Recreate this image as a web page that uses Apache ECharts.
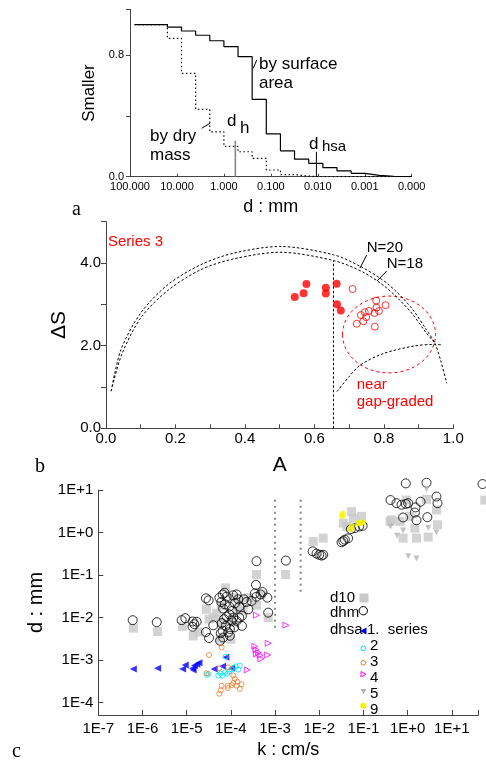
<!DOCTYPE html>
<html>
<head>
<meta charset="utf-8">
<script src="https://cdn.jsdelivr.net/npm/echarts@6/dist/echarts.min.js"></script>
<style>
  html, body { margin: 0; padding: 0; background: #fff; }
  #chart { width: 486px; height: 760px; }
</style>
</head>
<body>
<div id="chart"></div>
<script>
// ---------- panel a : grading curves ----------
var sieveSizes  = [80, 16, 8, 4, 2, 1, 0.5, 0.25, 0.125, 0.0625, 0.0313, 0.0156, 0.0078, 0.0039, 0.00195, 0.00098, 0.00049, 0.00024, 0.0001];
var surfaceFrac = [1.0, 0.984, 0.958, 0.93, 0.894, 0.855, 0.79, 0.509, 0.282, 0.17, 0.115, 0.088, 0.06, 0.038, 0.022, 0.009, 0.003, 0.0, 0.0];
var massFrac    = [1.0, 0.91, 0.68, 0.443, 0.295, 0.20, 0.164, 0.121, 0.044, 0.014, 0.004, 0.0, 0.0, 0.0, 0.0, 0.0, 0.0, 0.0, 0.0];
var dhLine   = [[0.57, 0], [0.57, 0.237]];
var dhsaLine = [[0.0107, 0], [0.0107, 0.164]];
var gradeTicks = ['100.000', '10.000', '1.000', '0.100', '0.010', '0.001', '0.000'];

// ---------- panel b : A vs dS ----------
var curveN20 = [[0.015,0.9],[0.043,1.9],[0.1,2.79],[0.177,3.47],[0.273,3.96],[0.368,4.24],[0.5,4.40],[0.655,4.2],[0.732,3.92],[0.809,3.51],[0.876,2.95],[0.923,2.38],[0.947,2.06],[0.965,1.6],[0.981,1.09]];
var curveN18 = [[0.015,0.9],[0.045,1.78],[0.1,2.67],[0.177,3.33],[0.273,3.84],[0.368,4.1],[0.5,4.26],[0.655,4.06],[0.74,3.78],[0.809,3.39],[0.876,2.83],[0.923,2.3],[0.947,2.06]];
var curveGap = [[0.665,0.89],[0.7,1.25],[0.732,1.53],[0.799,1.81],[0.886,1.99],[0.943,2.03],[0.967,2.02]];
var limitA   = [[0.655,0],[0.655,4.05]];
var series3Filled = [[0.5435,3.18],[0.569,3.27],[0.577,3.49],[0.633,3.40],[0.633,3.26],[0.664,3.50],[0.665,3.0],[0.676,2.85]];
var series3Open = [[0.710,3.37],[0.778,3.09],[0.805,2.98],[0.779,2.92],[0.786,2.84],[0.757,2.84],[0.745,2.81],[0.773,2.79],[0.734,2.74],[0.749,2.69],[0.741,2.59],[0.722,2.53],[0.774,2.46]];
var gapEllipse = [[0.815, 2.27, 0.134, 0.93]]; // centre A, centre dS, half width, half height

// ---------- panel c : k vs d ----------
var d10 = [[6.2e-7,5.65e-3],[2.2e-6,4.7e-3],[8.1e-6,6.2e-3],[1.41e-5,3.7e-3],[1.93e-5,4.6e-3],[2.8e-5,1.57e-2],[3.2e-5,9.2e-3],[4.0e-5,1.0e-2],[4.8e-5,1.27e-2],[6.1e-5,1.9e-2],[7.6e-5,5.0e-2],[6.0e-5,7.7e-3],[5.7e-5,3.1e-3],[1.0e-4,3.1e-3],[1.13e-4,7.7e-3],[1.13e-4,2.94e-2],[1.4e-4,1.57e-2],[1.6e-4,2.5e-2],[1.9e-4,1.45e-2],[2.5e-4,2.94e-2],[3.8e-4,1.95e-2],[3.8e-4,0.103],[5.0e-4,3.5e-2],[7.0e-4,1.0e-2],[1.73e-3,0.103],
  [7.3e-3,0.62],[1.23e-2,0.74],[3.5e-2,1.66],[4.2e-2,1.39],[5.4e-2,3.1],[5.9e-2,2.18],[9.1e-2,2.4],[0.40,1.82],[0.43,1.99],[0.67,1.82],[0.79,0.74],[0.95,5.8],[1.12,2.4],[1.46,1.27],[1.59,0.74],[2.68,6.05],[2.93,0.78],[4.5,3.4],[4.75,1.52],[56,5.8]];
var dhm = [[6.0e-7,8.7e-3],[2.1e-6,7.8e-3],[7.7e-6,8.7e-3],[9.3e-6,9.7e-3],[1.36e-5,8.1e-3],[1.49e-5,7.0e-3],[1.36e-5,6.1e-3],[1.68e-5,8.0e-3],[2.73e-5,2.84e-2],[3.13e-5,2.55e-2],[2.73e-5,4.56e-3],[3.2e-5,3.3e-3],[4.0e-5,6.6e-3],
  [5.5e-5,2.94e-2],[6.5e-5,3.5e-2],[7.2e-5,3.85e-2],[8.0e-5,3.1e-2],[6.1e-5,2.33e-2],[7.3e-5,2.06e-2],[6.7e-5,1.63e-2],[9.2e-5,1.81e-2],[1.13e-4,3.34e-2],[1.35e-4,3.5e-2],[1.47e-4,2.69e-2],[1.98e-4,2.69e-2],[1.24e-4,2.17e-2],[1.55e-4,1.81e-2],[1.09e-4,1.44e-2],[9.2e-5,1.2e-2],[8.0e-5,1.06e-2],[1.13e-4,1.0e-2],[1.55e-4,1.0e-2],[1.78e-4,1.1e-2],[1.35e-4,8.4e-3],[1.04e-4,8.4e-3],[7.0e-5,9.2e-3],[6.2e-5,7.4e-3],[7.7e-5,6.4e-3],[9.5e-5,5.4e-3],[6.5e-5,4.9e-3],[5.9e-5,4.3e-3],[8.7e-5,4.5e-3],[6.7e-5,3.4e-3],[5.7e-5,2.86e-3],[9.5e-5,3.75e-3],[1.19e-4,5.9e-3],[1.78e-4,6.4e-3],[2.27e-4,2.33e-2],[2.94e-4,2.46e-2],[2.48e-4,1.57e-2],[3.5e-4,3.7e-2],[3.7e-4,5.9e-2],[3.8e-4,3.1e-2],[4.7e-4,3.5e-2],[5.2e-4,3.99e-2],[6.7e-4,2.94e-2],[7.0e-4,1.31e-2],[3.8e-4,0.212],[1.76e-3,0.219],
  [7.1e-3,0.362],[8.7e-3,0.32],[1.0e-2,0.30],[1.13e-2,0.287],[1.23e-2,0.30],[3.2e-2,0.59],[3.5e-2,0.63],[3.8e-2,0.68],[4.5e-2,0.73],[5.2e-2,1.2],[6.4e-2,1.27],[8.0e-2,1.39],[9.6e-2,1.44],[0.41,5.8],[0.56,4.9],[0.73,4.5],[0.91,4.7],[1.03,4.9],[0.91,14.3],[2.68,14.8],[4.5,7.0],[4.75,4.9],[1.96,5.3],[1.51,3.9],[1.46,2.95],[1.59,1.95],[0.79,2.26],[2.8,2.3],[49.6,13.8]];
var dhsa1 = [[6.2e-7,6.2e-4],[2.2e-6,6.45e-4],[8.1e-6,6.2e-4],[9.3e-6,7.7e-4],[1.36e-5,6.45e-4],[1.5e-5,7.45e-4],[1.7e-5,8.0e-4],[1.9e-5,8.7e-4],[1.4e-5,5.9e-4],[4.2e-5,6.2e-4],[6.5e-5,7.2e-4],[7.7e-5,1.17e-3],[1.04e-4,6.45e-4]];
var dhsa2 = [[2.9e-5,4.5e-4],[3.1e-5,4.76e-4],[5.2e-5,4.35e-4],[5.9e-5,4.8e-4],[6.5e-5,4.35e-4],[7.3e-5,5.2e-4],[8.3e-5,4.8e-4],[9.2e-5,5.4e-4],[1.04e-4,6.0e-4],[1.13e-4,6.6e-4],[1.3e-4,7.1e-4],[1.47e-4,6.0e-4],[1.6e-4,7.45e-4],[7.6e-5,1.21e-3]];
var dhsa3 = [[6.2e-5,2.0e-3],[3.2e-5,1.32e-3],[2.8e-5,4.9e-4],[5.5e-5,6.45e-4],[8.7e-5,6.8e-4],[1.13e-4,4.35e-4],[1.23e-4,3.6e-4],[1.13e-4,2.9e-4],[1.35e-4,2.5e-4],[1.75e-4,2.7e-4],[1.04e-4,2.6e-4],[8.5e-5,2.5e-4],[6.2e-5,2.5e-4],[8.5e-5,2.2e-4],[5.9e-5,1.94e-4],[5.5e-5,1.62e-4],[1.6e-4,2.1e-4],[1.4e-4,3.1e-4]];
var dhsa4 = [[3.8e-4,1.14e-2],[1.76e-3,6.6e-3],[7.0e-4,2.5e-3],[3.5e-4,2.1e-3],[3.7e-4,1.76e-3],[3.8e-4,1.4e-3],[4.2e-4,1.5e-3],[4.6e-4,1.3e-3],[4.8e-4,1.07e-3],[6.8e-4,1.32e-3],[2.35e-4,5.9e-4]];
var dhsa5 = [[0.41,1.39],[0.58,0.84],[0.79,1.12],[1.03,0.277],[1.59,0.244],[2.93,1.27],[4.5,1.0],[2.68,10.4]];
var dhsa9 = [[3.4e-2,2.75],[3.3e-2,2.45],[5.4e-2,1.39],[5.3e-2,1.2],[7.6e-2,1.66],[9.6e-2,1.74],[8.5e-2,1.65]];
var kLimit1 = [[1e-3,5.9],[1e-3,4.9e-3]];
var kLimit2 = [[3.8e-3,5.9],[3.8e-3,3.5e-2]];

var SANS = '"Liberation Sans", Arial, sans-serif';
var SERIF = '"Liberation Serif", "Times New Roman", serif';
var AXIS = '#444';

function zip(xs, ys) {
  var out = [];
  for (var i = 0; i < xs.length; i++) out.push([xs[i], ys[i]]);
  return out;
}
function expLabel(v) {
  var l = Math.log10(v), e = Math.round(l);
  if (Math.abs(l - e) > 1e-6) return '';
  return '1E' + (e >= 0 ? '+' : '-') + Math.abs(e);
}
function txt(x, y, s, size, color, family) {
  return { type: 'text', x: x, y: y, silent: true,
    style: { text: s, fill: color || '#000', font: size + 'px ' + (family || SANS),
      textAlign: 'left', align: 'left', textVerticalAlign: 'middle', verticalAlign: 'middle' } };
}
function seg(x1, y1, x2, y2, color) {
  return { type: 'line', silent: true, shape: { x1: x1, y1: y1, x2: x2, y2: y2 },
    style: { stroke: color || '#000', lineWidth: 1 } };
}
function lineSeries(ax, data, style, extra) {
  var s = { type: 'line', xAxisIndex: ax, yAxisIndex: ax, data: data, showSymbol: false,
    symbol: 'none', lineStyle: style, silent: true, z: 3 };
  for (var k in extra) s[k] = extra[k];
  return s;
}
function scatter(data, symbol, size, fill, border, z) {
  return { type: 'scatter', xAxisIndex: 2, yAxisIndex: 2, data: data, symbol: symbol,
    symbolSize: size, clip: false, z: z, silent: true,
    itemStyle: { color: fill, borderColor: border || fill, borderWidth: border ? 1 : 0 } };
}

var LEFT_TRI  = 'path://M0,5L10,0L10,10Z';
var RIGHT_TRI = 'path://M10,5L0,0L0,10Z';
var DOWN_TRI  = 'path://M0,0L10,0L5,10Z';

var chart = echarts.init(document.getElementById('chart'), null, { renderer: 'canvas' });
chart.setOption({
  animation: false,
  backgroundColor: '#fff',
  textStyle: { fontFamily: SANS },
  grid: [
    { left: 130, top: 9.4, width: 281.7, height: 167.3 },
    { left: 106, top: 221.7, width: 347.3, height: 206.6 },
    { left: 98.3, top: 490, width: 380, height: 226.7 }
  ],
  xAxis: [
    { gridIndex: 0, type: 'log', min: 0.0001, max: 100, inverse: true,
      axisLine: { lineStyle: { color: AXIS } },
      axisTick: { inside: true, length: 3, lineStyle: { color: AXIS } },
      axisLabel: { fontSize: 11, color: '#000', margin: 5,
        formatter: function (v) { var i = Math.round(2 - Math.log10(v)); return gradeTicks[i] || ''; } },
      splitLine: { show: false },
      name: 'd : mm', nameLocation: 'middle', nameGap: 21, nameTextStyle: { fontSize: 18, color: '#000' } },
    { gridIndex: 1, type: 'value', min: 0, max: 1, interval: 0.1,
      axisLine: { lineStyle: { color: AXIS } },
      axisTick: { inside: true, length: 4, lineStyle: { color: AXIS } },
      axisLabel: { fontSize: 15, color: '#000', margin: 3,
        formatter: function (v) { var n = Math.round(v * 10); return n % 2 === 0 ? v.toFixed(1) : ''; } },
      splitLine: { show: false },
      name: 'A', nameLocation: 'middle', nameGap: 26, nameTextStyle: { fontSize: 21, color: '#000' } },
    { gridIndex: 2, type: 'log', min: 1e-7, max: 39.8,
      axisLine: { lineStyle: { color: AXIS } },
      axisTick: { inside: true, length: 5, lineStyle: { color: AXIS } },
      axisLabel: { fontSize: 15, color: '#000', margin: 6, formatter: expLabel },
      splitLine: { show: false },
      name: 'k : cm/s', nameLocation: 'middle', nameGap: 26, nameTextStyle: { fontSize: 18, color: '#000' } }
  ],
  yAxis: [
    { gridIndex: 0, type: 'value', min: 0, max: 1.1, interval: 0.4,
      axisLine: { show: true, lineStyle: { color: AXIS } },
      axisTick: { show: true, length: 4, lineStyle: { color: AXIS } },
      axisLabel: { fontSize: 11, color: '#000', margin: 6,
        formatter: function (v) { return (v === 0 || Math.abs(v - 0.8) < 1e-9) ? v.toFixed(1) : ''; } },
      splitLine: { show: false },
      name: 'Smaller', nameLocation: 'middle', nameGap: 27, nameTextStyle: { fontSize: 17, color: '#000' } },
    { gridIndex: 1, type: 'value', min: 0, max: 5, interval: 1,
      axisLine: { show: true, lineStyle: { color: AXIS } },
      axisTick: { show: true, length: 5, lineStyle: { color: AXIS } },
      axisLabel: { fontSize: 15, color: '#000', margin: 5,
        formatter: function (v) { return (v % 2 === 0 && v < 5) ? v.toFixed(1) : ''; } },
      splitLine: { show: false },
      name: '\u0394S', nameLocation: 'middle', nameGap: 34, nameTextStyle: { fontSize: 21, color: '#000' } },
    { gridIndex: 2, type: 'log', min: 5.13e-5, max: 10,
      axisLine: { show: true, lineStyle: { color: AXIS } },
      axisTick: { show: true, inside: true, length: 5, lineStyle: { color: AXIS } },
      axisLabel: { fontSize: 15, color: '#000', margin: 5, formatter: expLabel },
      splitLine: { show: false },
      name: 'd : mm', nameLocation: 'middle', nameGap: 52, nameTextStyle: { fontSize: 20, color: '#000' } }
  ],
  series: [
    // panel a
    lineSeries(0, zip(sieveSizes, surfaceFrac), { color: '#000', width: 1.2 }, { step: 'end' }),
    lineSeries(0, zip(sieveSizes, massFrac), { color: '#000', width: 1.2, type: [1.5, 2.5] }, { step: 'end' }),
    lineSeries(0, dhLine, { color: '#888', width: 1.6 }),
    lineSeries(0, dhsaLine, { color: '#000', width: 1 }),
    // panel b
    lineSeries(1, curveN20, { color: '#000', width: 1, type: [2.5, 2] }, { smooth: 0.3 }),
    lineSeries(1, curveN18, { color: '#000', width: 1, type: [2.5, 2] }, { smooth: 0.3 }),
    lineSeries(1, curveGap, { color: '#000', width: 1, type: [2.5, 2] }, { smooth: 0.3 }),
    lineSeries(1, limitA, { color: '#000', width: 1, type: [2.5, 2] }),
    { type: 'custom', xAxisIndex: 1, yAxisIndex: 1, data: gapEllipse, silent: true, z: 3,
      encode: { x: 0, y: 1 },
      renderItem: function (params, api) {
        var c = api.coord([api.value(0), api.value(1)]);
        var s = api.size([api.value(2), api.value(3)]);
        return { type: 'ellipse', shape: { cx: c[0], cy: c[1], rx: s[0], ry: s[1] },
          style: { fill: 'none', stroke: '#f00', lineWidth: 1, lineDash: [3, 3] } };
      } },
    { type: 'scatter', xAxisIndex: 1, yAxisIndex: 1, data: series3Filled, symbol: 'circle', symbolSize: 8,
      itemStyle: { color: '#f00' }, z: 4, silent: true },
    { type: 'scatter', xAxisIndex: 1, yAxisIndex: 1, data: series3Open, symbol: 'circle', symbolSize: 7,
      itemStyle: { color: 'rgba(0,0,0,0)', borderColor: '#f00', borderWidth: 1 }, z: 4, silent: true },
    // panel c
    lineSeries(2, kLimit1, { color: '#888', width: 2, type: [2, 4] }),
    lineSeries(2, kLimit2, { color: '#888', width: 2, type: [2, 4] }),
    scatter(d10, 'rect', 9, '#c8c8c8', null, 2),
    scatter(dhm, 'circle', 9, 'rgba(0,0,0,0)', '#000', 3),
    scatter(dhsa9, 'circle', 6, '#f5f500', null, 4),
    scatter(dhsa5, DOWN_TRI, 6, '#b4b4b4', null, 4),
    scatter(dhsa1, LEFT_TRI, 7, '#0000ff', null, 5),
    scatter(dhsa2, 'circle', 5, 'rgba(0,0,0,0)', '#00e0f0', 5),
    scatter(dhsa3, 'circle', 5, 'rgba(0,0,0,0)', '#f07a28', 5),
    scatter(dhsa4, RIGHT_TRI, 6, 'rgba(0,0,0,0)', '#ff00ff', 5)
  ],
  graphic: { elements: [
    // panel a annotations
    txt(259, 64, 'by surface', 17), txt(259, 83, 'area', 17),
    seg(253.3, 68.3, 256.7, 60),
    txt(150, 136, 'by dry', 17), txt(150, 155, 'mass', 17),
    seg(201.7, 128.3, 210, 123.3),
    txt(227, 121, 'd', 17), txt(240, 128, 'h', 17),
    txt(309, 144, 'd', 17), txt(322, 147, 'hsa', 15),
    txt(72, 210, 'a', 20, '#000', SERIF),
    // panel b annotations
    txt(108, 242, 'Series 3', 15, '#f00'),
    txt(366.7, 248, 'N=20', 15), seg(366.7, 255, 360, 268),
    txt(386.7, 264, 'N=18', 15), seg(386.7, 271, 377, 281),
    txt(356.7, 385, 'near', 15, '#f00'), txt(356.7, 402, 'gap-graded', 15, '#f00'),
    txt(35, 467, 'b', 20, '#000', SERIF),
    // panel c legend
    txt(330, 598, 'd10', 15), { type: 'rect', silent: true, shape: { x: 359.5, y: 593.5, width: 9, height: 9 }, style: { fill: '#c8c8c8' } },
    txt(330, 613, 'dhm', 15), { type: 'circle', silent: true, shape: { cx: 363.3, cy: 610.7, r: 4.2 }, style: { fill: 'none', stroke: '#000', lineWidth: 1 } },
    txt(330, 630, 'dhsa', 15), { type: 'polygon', silent: true, shape: { points: [[360, 631], [366.5, 627.5], [366.5, 634.5]] }, style: { fill: '#0000ff' } },
    txt(367, 630, '1.  series', 15),
    txt(370, 646, '2', 15), { type: 'circle', silent: true, shape: { cx: 363.3, cy: 648.3, r: 2.3 }, style: { fill: 'none', stroke: '#00e0f0', lineWidth: 1 } },
    txt(370, 662, '3', 15), { type: 'circle', silent: true, shape: { cx: 363.3, cy: 662.7, r: 2.3 }, style: { fill: 'none', stroke: '#f07a28', lineWidth: 1 } },
    txt(370, 678, '4', 15), { type: 'polygon', silent: true, shape: { points: [[361, 671.5], [366, 674.3], [361, 677]] }, style: { fill: 'none', stroke: '#ff00ff', lineWidth: 1 } },
    txt(370, 694, '5', 15), { type: 'polygon', silent: true, shape: { points: [[360.5, 689], [366.5, 689], [363.5, 694]] }, style: { fill: '#b4b4b4' } },
    txt(370, 710, '9', 15), { type: 'circle', silent: true, shape: { cx: 363.3, cy: 705.7, r: 3 }, style: { fill: '#f5f500' } },
    txt(12, 752, 'c', 20, '#000', SERIF)
  ] }
});
</script>
</body>
</html>
